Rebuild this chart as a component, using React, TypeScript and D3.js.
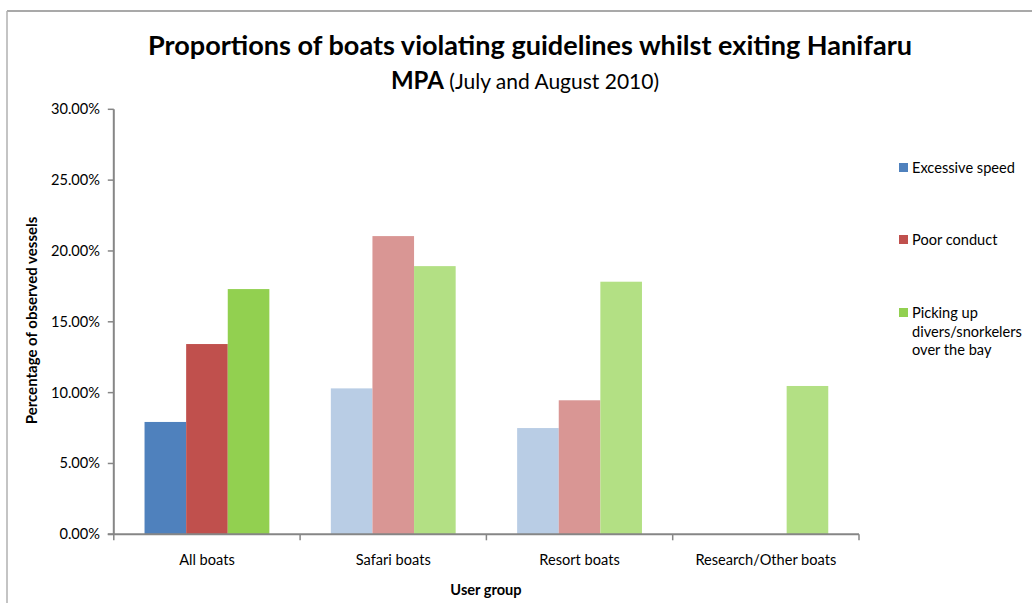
import React from "react";
import * as d3 from "d3";

const categories = ["All boats", "Safari boats", "Resort boats", "Research/Other boats"];
const seriesNames = ["Excessive speed", "Poor conduct", "Picking up divers/snorkelers over the bay"];
const excessiveSpeed = [7.93, 10.3, 7.5, 0];
const poorConduct = [13.43, 21.05, 9.46, 0];
const pickingUp = [17.31, 18.93, 17.83, 10.47];
const yTicks = [0, 5, 10, 15, 20, 25, 30];
const legendLines = [["Excessive speed"], ["Poor conduct"], ["Picking up", "divers/snorkelers", "over the bay"]];

const strongColors = ["#4F81BD", "#C0504D", "#92D050"];
const lightColors = ["#B9CDE5", "#D99694", "#B3E084"];

const W = 1032;
const H = 603;
const plot = { left: 113.8, right: 859, top: 109.3, bottom: 534.3 };
const FONT = "Lato, 'Open Sans', sans-serif";
const FS = 14.6;

export default function App() {
  const x = d3.scaleBand<string>().domain(categories).range([plot.left, plot.right]).paddingInner(0.33).paddingOuter(0.165);
  const xCat = d3.scaleBand<string>().domain(categories).range([plot.left, plot.right]);
  const y = d3.scaleLinear().domain([0, 30]).range([plot.bottom, plot.top]);
  const series = [excessiveSpeed, poorConduct, pickingUp];
  const inner = d3.scaleBand<number>().domain([0, 1, 2]).range([0, x.bandwidth()]);

  const catTicks = [...categories.map((c) => xCat(c) as number), plot.right];
  const legendY = [168, 240, 313];

  return (
    <svg width={W} height={H} style={{ position: "absolute", left: 0, top: 0, background: "#fff" }} fontFamily={FONT}>
      <rect x={0} y={0} width={W} height={H} fill="#fff" />
      {/* chart border */}
      <line x1={7} y1={11} x2={W} y2={11} stroke="#8c8c8c" strokeWidth={1.5} />
      <line x1={7} y1={11} x2={7} y2={H} stroke="#b0b0b0" strokeWidth={1.5} />

      {/* title */}
      <text x={530} y={55} textAnchor="middle" fontSize={26} fontWeight={700} fill="#000" textLength={764} lengthAdjust="spacingAndGlyphs">
        Proportions of boats violating guidelines whilst exiting Hanifaru
      </text>
      <text x={525} y={89} textAnchor="middle" fill="#000">
        <tspan fontSize={24} fontWeight={700}>MPA</tspan>
        <tspan fontSize={21} fontWeight={400}> (July and August 2010)</tspan>
      </text>

      {/* bars */}
      {categories.map((c, ci) =>
        series.map((s, si) => {
          const v = s[ci];
          if (v <= 0) return null;
          const color = ci === 0 ? strongColors[si] : lightColors[si];
          return (
            <rect
              key={c + si}
              x={(x(c) as number) + (inner(si) as number)}
              y={y(v)}
              width={inner.bandwidth()}
              height={plot.bottom - y(v)}
              fill={color}
            />
          );
        })
      )}

      {/* y axis */}
      <line x1={plot.left} y1={plot.top} x2={plot.left} y2={plot.bottom} stroke="#868686" strokeWidth={2} />
      {yTicks.map((t) => (
        <g key={t}>
          <line x1={plot.left - 6} x2={plot.left} y1={y(t)} y2={y(t)} stroke="#868686" strokeWidth={1.5} />
          <text x={100} y={y(t) + 5} textAnchor="end" fontSize={FS} fill="#000">
            {t.toFixed(2) + "%"}
          </text>
        </g>
      ))}

      {/* x axis */}
      <line x1={plot.left - 6} y1={plot.bottom} x2={plot.right} y2={plot.bottom} stroke="#868686" strokeWidth={2} />
      {catTicks.map((t, i) => (
        <line key={i} x1={t} x2={t} y1={plot.bottom} y2={plot.bottom + 6} stroke="#868686" strokeWidth={1.5} />
      ))}
      {categories.map((c) => (
        <text key={c} x={(xCat(c) as number) + xCat.bandwidth() / 2} y={565} textAnchor="middle" fontSize={FS} fill="#000">
          {c}
        </text>
      ))}

      {/* axis titles */}
      <text x={486} y={595} textAnchor="middle" fontSize={FS} fontWeight={700} fill="#000">
        User group
      </text>
      <text transform={`translate(37,${(218 + 423) / 2}) rotate(-90)`} textAnchor="middle" fontSize={FS + 0.4} fontWeight={700} fill="#000">
        Percentage of observed vessels
      </text>

      {/* legend */}
      {seriesNames.map((n, i) => (
        <g key={n}>
          <rect x={899} y={legendY[i] - 5} width={9} height={9} fill={strongColors[i]} />
          {legendLines[i].map((ln, j) => (
            <text key={j} x={912} y={legendY[i] + 5 + j * 18.5} fontSize={FS} fill="#000">
              {ln}
            </text>
          ))}
        </g>
      ))}
    </svg>
  );
}
